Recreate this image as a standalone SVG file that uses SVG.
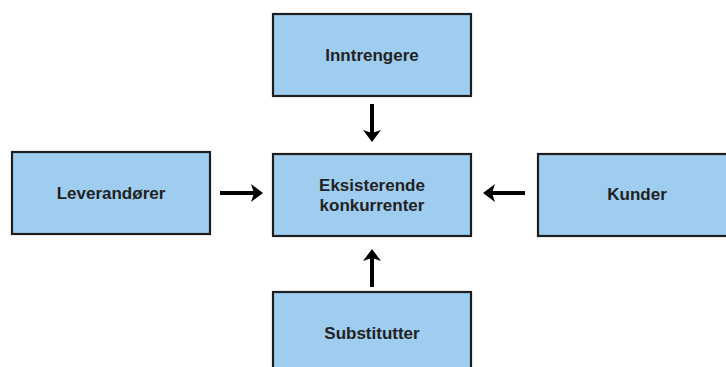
<svg xmlns="http://www.w3.org/2000/svg" width="726" height="367" viewBox="0 0 726 367">
<style>
.box{fill:#9fcdf0;stroke:#1e1e1e;stroke-width:2.2}
.lbl{font-family:"Liberation Sans",Arial,sans-serif;font-weight:bold;font-size:17px;fill:#222;text-anchor:middle;dominant-baseline:central}
.arr{stroke:#000;stroke-width:4;fill:none;marker-end:url(#ah)}
</style>
<defs>
<marker id="ah" viewBox="0 0 12 18" refX="6" refY="9" markerWidth="3" markerHeight="4.5" orient="auto" markerUnits="strokeWidth">
<path d="M0,0 L12,9 L0,18 L3,9 Z" fill="#000"/>
</marker>
</defs>
<rect width="726" height="367" fill="#fff"/>
<g id="inntrengere"><rect class="box" x="273" y="14" width="198" height="82"/><text class="lbl" x="372" y="55">Inntrengere</text></g>
<g id="leverandorer"><rect class="box" x="12" y="152" width="198" height="82"/><text class="lbl" x="111" y="193">Leverandører</text></g>
<g id="eksisterende"><rect class="box" x="273" y="154" width="198" height="82"/><text class="lbl" x="372" y="185">Eksisterende</text><text class="lbl" x="372" y="205">konkurrenter</text></g>
<g id="kunder"><rect class="box" x="538" y="154" width="198" height="82"/><text class="lbl" x="637" y="194">Kunder</text></g>
<g id="substitutter"><rect class="box" x="273" y="292" width="198" height="82"/><text class="lbl" x="372" y="333">Substitutter</text></g>
<g id="connectors">
<line class="arr" x1="372" y1="104" x2="372" y2="136"/>
<line class="arr" x1="220" y1="193" x2="257" y2="193"/>
<line class="arr" x1="525" y1="193" x2="489" y2="193"/>
<line class="arr" x1="372" y1="287" x2="372" y2="255"/>
</g>
</svg>
